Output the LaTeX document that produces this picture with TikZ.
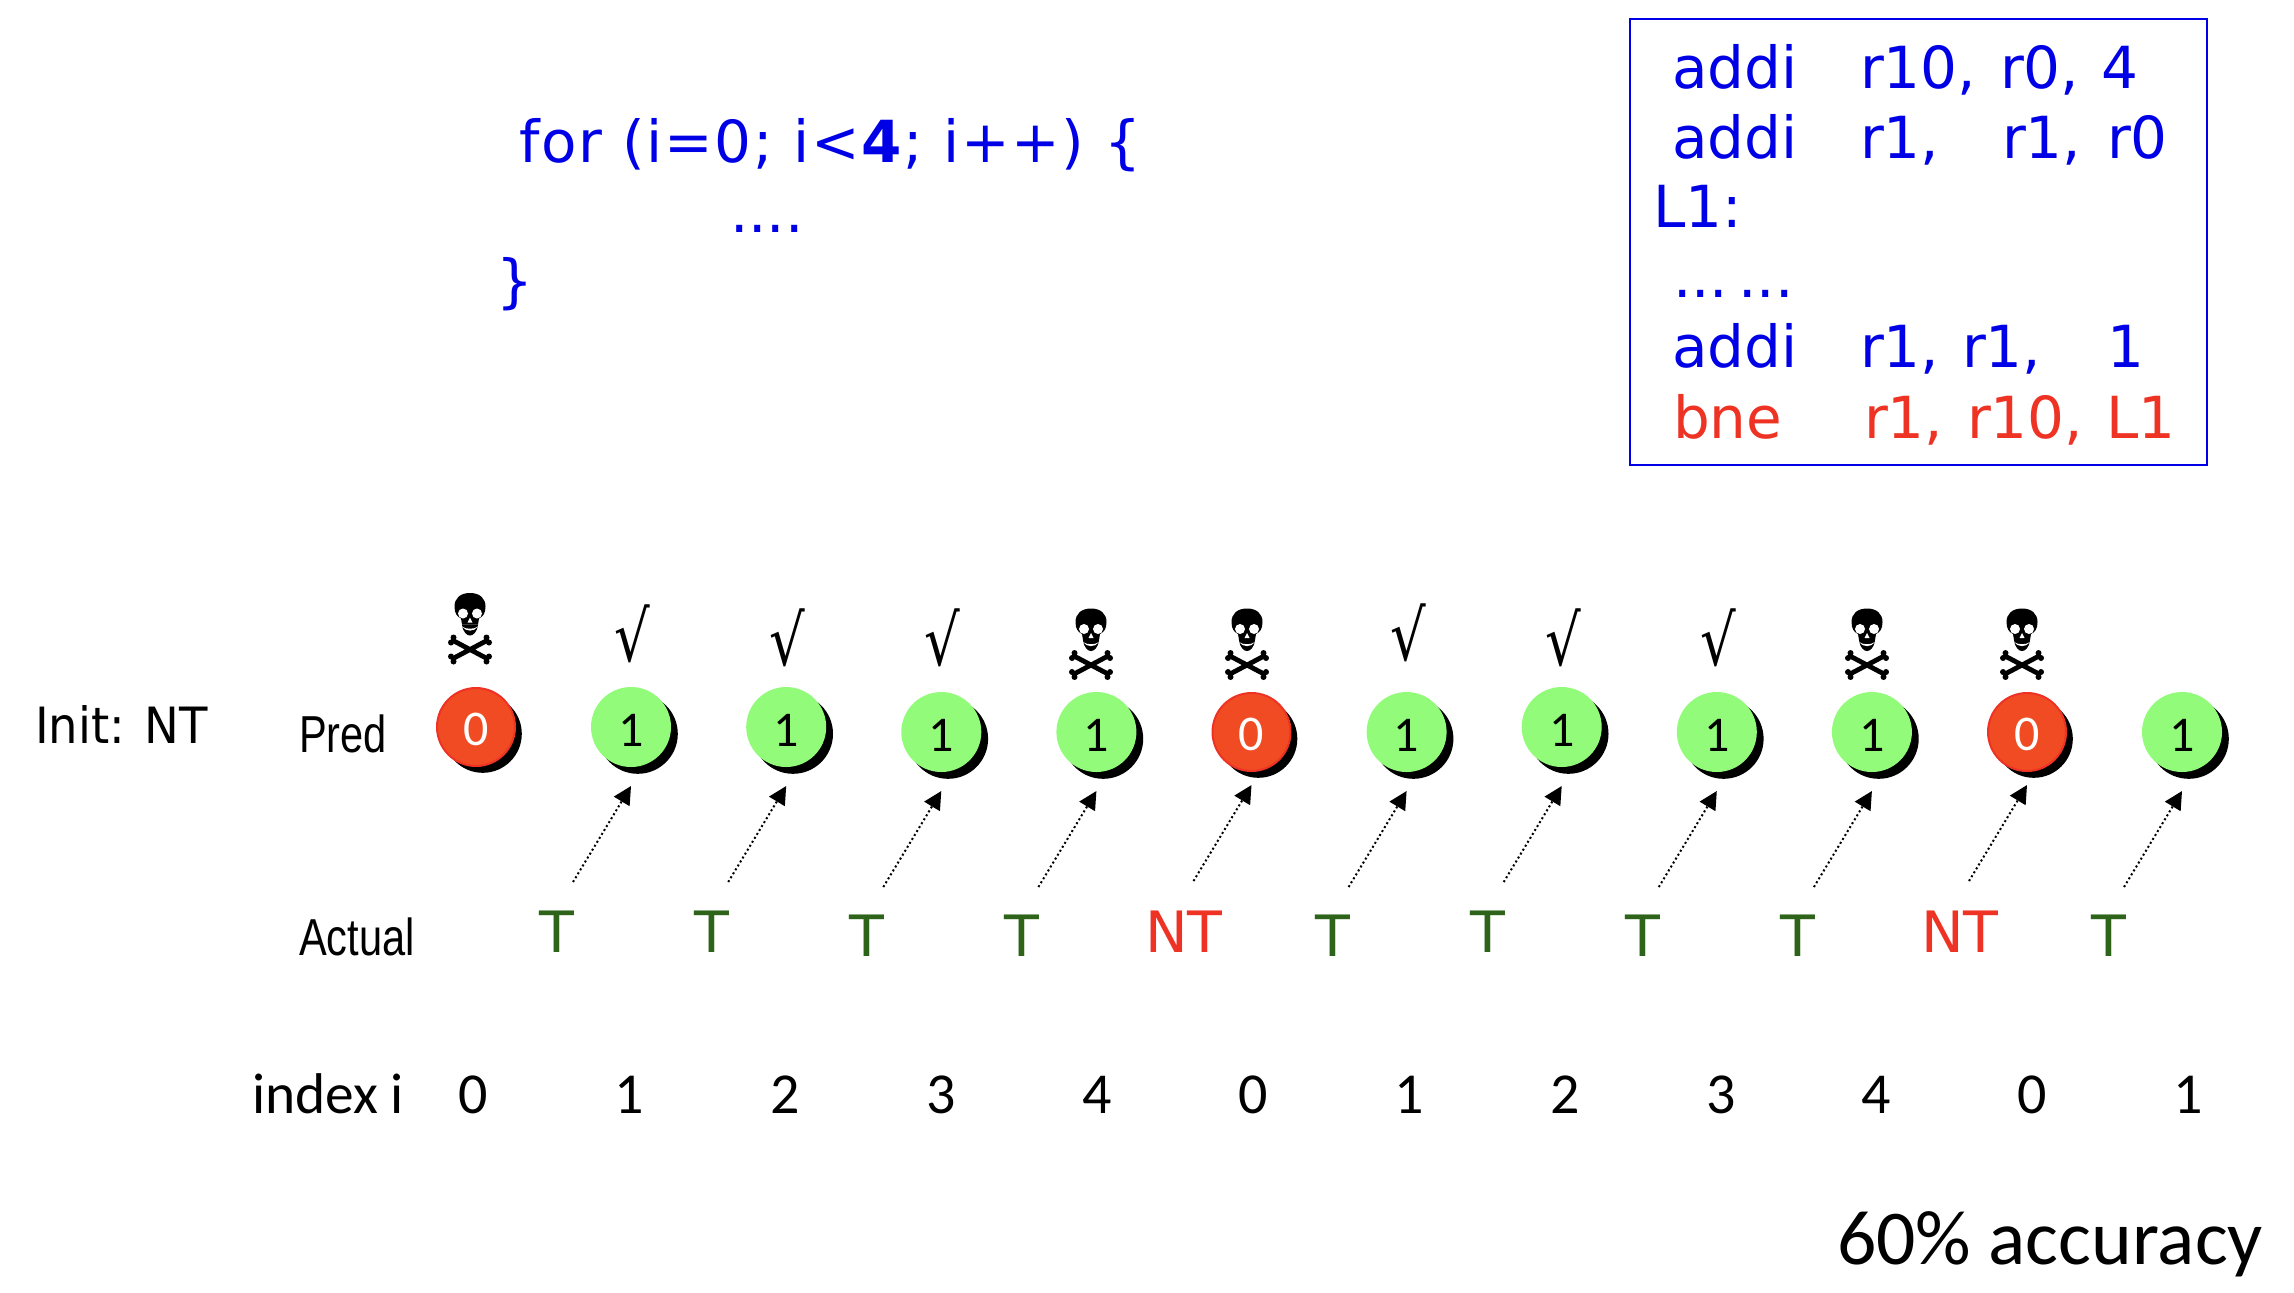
\documentclass[tikz,border=0pt]{standalone}
\usepackage{fontspec}
\setmainfont{DejaVu Sans}
\newfontfamily\carlito{Carlito}
\newfontfamily\loopfont{DejaVu Sans}[LetterSpace=3]
\newfontfamily\initfont{DejaVu Sans}[FakeStretch=0.93]
\newfontfamily\narrowfont{Liberation Sans}[FakeStretch=0.8]
\newfontfamily\hitfont{DejaVu Sans}[FakeStretch=0.8]
\usetikzlibrary{positioning,calc,arrows.meta,shadows}
\definecolor{myblue}{RGB}{0,0,230}
\definecolor{myred}{RGB}{238,50,36}
\definecolor{mygreen}{RGB}{45,100,25}
\definecolor{dotred}{RGB}{240,75,35}
\definecolor{dotgreen}{RGB}{146,252,122}
\newcommand{\fsize}[1]{\fontsize{#1}{#1}\selectfont}
\begin{document}
\begin{tikzpicture}[x=0.5pt,y=-0.5pt,
  every node/.style={inner sep=0pt,outer sep=0pt},
  code/.style={anchor=base west,myblue,font=\fsize{29}},
  redcode/.style={code,myred},
  rowlabel/.style={anchor=base west,font=\narrowfont\fsize{26}},
  num/.style={anchor=base,font=\carlito\fsize{29}},
  taken/.style={anchor=base,mygreen,font=\fsize{28.5}},
  nottaken/.style={anchor=base,myred,font=\fsize{28.5}},
  dotshadow/.style={drop shadow={shadow xshift=3.4pt,shadow yshift=-3.4pt,fill=black,opacity=1}},
  onedot/.style={circle,minimum size=40pt,fill=dotgreen,dotshadow,text height=19pt,font=\carlito\fsize{25}},
  zerodot/.style={circle,minimum size=39pt,fill=dotred,draw=myred,line width=1pt,dotshadow,text=white,text height=19pt,font=\carlito\fsize{25}},
  hit/.style={font=\hitfont\fsize{35}},
  guess/.style={-{Triangle[length=9pt,width=9pt]},line width=1pt,dash pattern=on 1pt off 1.3pt},
  skull/.pic={
    \fill (0,-34.5) .. controls (10,-34.5) and (15.5,-29) .. (15.5,-21)
      .. controls (15.5,-14) and (13,-11) .. (9,-9) -- (8,-3) -- (-8,-3) -- (-9,-9)
      .. controls (-13,-11) and (-15.5,-14) .. (-15.5,-21)
      .. controls (-15.5,-29) and (-10,-34.5) .. (0,-34.5) -- cycle;
    \fill (-8,-3) .. controls (-7,5) and (-3,8) .. (0,8) .. controls (3,8) and (7,5) .. (8,-3) -- cycle;
    \fill[white] (-7,-14) circle (5) (7,-14) circle (5);
    \fill[white] (0,-10) -- (2.5,-5) -- (-2.5,-5) -- cycle;
    \fill[white] (-8,-1) .. controls (-4,2) and (4,2) .. (8,-1) .. controls (4,4.5) and (-4,4.5) .. (-8,-1) -- cycle;
    \draw[line width=2.4pt] (-17,13) -- (17,31) (17,13) -- (-17,31);
    \fill (-16.5,10) circle (3) (-19,15) circle (3) (16.5,10) circle (3) (19,15) circle (3);
    \fill (-16.5,34) circle (3) (-19,29) circle (3) (16.5,34) circle (3) (19,29) circle (3);
  }
]
\useasboundingbox (0,0) rectangle (2294,1292);

% the loop
\node[code,font=\loopfont\fsize{29}] (forline) at (519,162) {for (i=0; i<\textbf{4}; i++) \{};
\node[code] (body) at (730,232) {....};
\node[code] (close) at (496,301) {\}};

% the assembly
\node[draw=myblue,line width=1pt,anchor=north west,
  minimum width=288.5pt,minimum height=223pt] (asm) at (1630,19) {};
\node[code] (op1) at (1672,88) {addi};
\node[code] (a1x) at (1860,88) {r10,};
\node[code] (a1y) at (2000,88) {r0,};
\node[code] (a1z) at (2101,88) {4};
\node[code] (op2) at (1672,158) {addi};
\node[code] (a2x) at (1860,158) {r1,};
\node[code] (a2y) at (2002,158) {r1,};
\node[code] (a2z) at (2107,158) {r0};
\node[code] (lab) at (1653,227) {L1:};
\node[code] (dots) at (1673,297) {...\hspace{5pt}...};
\node[code] (op3) at (1672,367) {addi};
\node[code] (a3x) at (1860,367) {r1,};
\node[code] (a3y) at (1962,367) {r1,};
\node[code] (a3z) at (2107,367) {1};
\node[redcode] (op4) at (1673,438) {bne};
\node[redcode] (a4x) at (1864,438) {r1,};
\node[redcode] (a4y) at (1967,438) {r10,};
\node[redcode] (a4z) at (2106,438) {L1};

% the row labels
\node[rowlabel,font=\initfont\fsize{25}] (init) at (35,743) {Init: NT};
\node[rowlabel] (pred) at (299,752) {Pred};
\node[rowlabel] (actual) at (299,955) {Actual};
\node[rowlabel,font=\carlito\fsize{28.7}] (index) at (252,1113) {index i};

% the predictions
\node[zerodot] (p0) at (476,727) {0};
\node[onedot] (p1) at (631,727) {1};
\node[onedot] (p2) at (786.2,727) {1};
\node[onedot] (p3) at (941.3,732) {1};
\node[onedot] (p4) at (1096.4,732) {1};
\node[zerodot] (p5) at (1251.5,732) {0};
\node[onedot] (p6) at (1406.6,732) {1};
\node[onedot] (p7) at (1561.7,727) {1};
\node[onedot] (p8) at (1716.8,732) {1};
\node[onedot] (p9) at (1871.9,732) {1};
\node[zerodot] (p10) at (2027,732) {0};
\node[onedot] (p11) at (2182,732) {1};

% the marks above
\pic (m0) at (470,627.5) {skull};
\node[hit] (m1) at (632,633.5) {√};
\node[hit] (m2) at (787,638) {√};
\node[hit] (m3) at (942,638) {√};
\pic (m4) at (1091,643) {skull};
\pic (m5) at (1247,643) {skull};
\node[hit] (m6) at (1408,633) {√};
\node[hit] (m7) at (1563,638) {√};
\node[hit] (m8) at (1718,638) {√};
\pic (m9) at (1867,643) {skull};
\pic (m10) at (2022,643) {skull};

% the outcomes
\node[taken] (a1) at (557,952) {T};
\node[taken] (a2) at (712,952) {T};
\node[taken] (a3) at (867,956) {T};
\node[taken] (a4) at (1022,956) {T};
\node[nottaken] (a5) at (1184,952) {NT};
\node[taken] (a6) at (1333,956) {T};
\node[taken] (a7) at (1488,952) {T};
\node[taken] (a8) at (1643,956) {T};
\node[taken] (a9) at (1798,956) {T};
\node[nottaken] (a10) at (1960,952) {NT};
\node[taken] (a11) at (2109,956) {T};

% the index values
\node[num] (i0) at (473.5,1113) {0};
\node[num] (i1) at (629.4,1113) {1};
\node[num] (i2) at (785.3,1113) {2};
\node[num] (i3) at (941.2,1113) {3};
\node[num] (i4) at (1097.1,1113) {4};
\node[num] (i5) at (1253,1113) {0};
\node[num] (i6) at (1408.9,1113) {1};
\node[num] (i7) at (1564.8,1113) {2};
\node[num] (i8) at (1720.7,1113) {3};
\node[num] (i9) at (1876.6,1113) {4};
\node[num] (i10) at (2032.5,1113) {0};
\node[num] (i11) at (2188.4,1113) {1};

\node[anchor=base west,font=\carlito\fsize{38.8}] (acc) at (1837,1264) {60\% accuracy};

% the ends of the guesses
\coordinate (t1) at ($(p1.south)+(0,19)$);
\coordinate (t2) at ($(p2.south)+(0,19)$);
\coordinate (t3) at ($(p3.south)+(0,19)$);
\coordinate (t4) at ($(p4.south)+(0,19)$);
\coordinate (t5) at ($(p5.south)+(0,14)$);
\coordinate (t6) at ($(p6.south)+(0,19)$);
\coordinate (t7) at ($(p7.south)+(0,19)$);
\coordinate (t8) at ($(p8.south)+(0,19)$);
\coordinate (t9) at ($(p9.south)+(0,19)$);
\coordinate (t10) at ($(p10.south)+(0,14)$);
\coordinate (t11) at ($(p11.south)+(0,19)$);

% the edges
\draw[guess] ($(t1)+(-58,96)$) coordinate (s1) -- (t1);
\draw[guess] ($(t2)+(-58,96)$) coordinate (s2) -- (t2);
\draw[guess] ($(t3)+(-58,96)$) coordinate (s3) -- (t3);
\draw[guess] ($(t4)+(-58,96)$) coordinate (s4) -- (t4);
\draw[guess] ($(t5)+(-58,96)$) coordinate (s5) -- (t5);
\draw[guess] ($(t6)+(-58,96)$) coordinate (s6) -- (t6);
\draw[guess] ($(t7)+(-58,96)$) coordinate (s7) -- (t7);
\draw[guess] ($(t8)+(-58,96)$) coordinate (s8) -- (t8);
\draw[guess] ($(t9)+(-58,96)$) coordinate (s9) -- (t9);
\draw[guess] ($(t10)+(-58,96)$) coordinate (s10) -- (t10);
\draw[guess] ($(t11)+(-58,96)$) coordinate (s11) -- (t11);
\end{tikzpicture}
\end{document}
